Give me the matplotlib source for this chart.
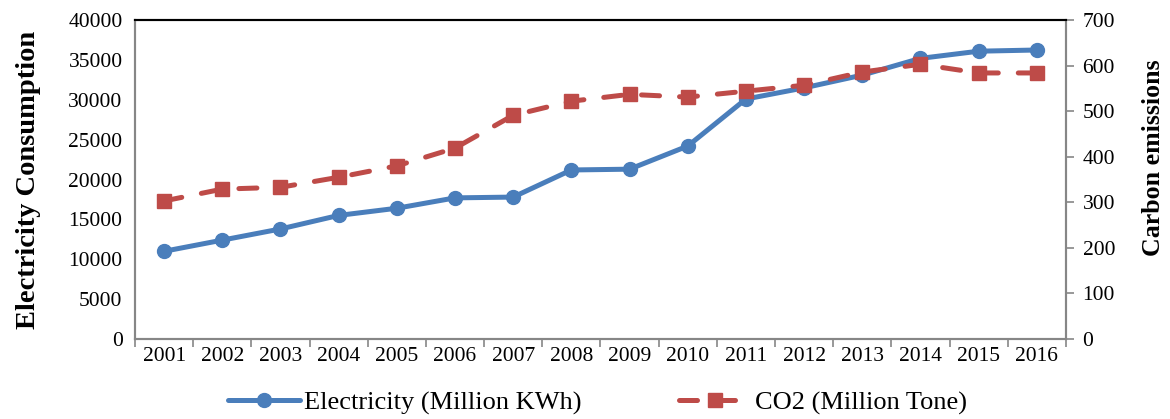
import numpy as np
import matplotlib.pyplot as plt

plt.rcParams['font.family'] = ['Liberation Serif', 'DejaVu Serif']

years = ['2001', '2002', '2003', '2004', '2005', '2006', '2007', '2008',
         '2009', '2010', '2011', '2012', '2013', '2014', '2015', '2016']
electricity = [11000, 12400, 13800, 15500, 16400, 17700, 17800, 21200,
               21300, 24200, 30100, 31500, 33100, 35200, 36100, 36250]
co2 = [303, 329, 333, 355, 380, 419, 491, 522,
       537, 531, 544, 557, 586, 603, 584, 584]

blue = '#4a7ebb'
red = '#be4b48'
grey = '#868686'

fig = plt.figure(figsize=(11.7, 4.19), dpi=100)
ax = fig.add_axes([0.1154, 0.191, 0.7956, 0.761])
ax2 = ax.twinx()

x = np.arange(len(years))
l1, = ax.plot(x, electricity, color=blue, lw=3.6, marker='o', ms=10,
              solid_capstyle='round', label='Electricity (Million KWh)')
l2, = ax2.plot(x, co2, color=red, lw=3.6, marker='s', ms=10.5,
               linestyle=(0, (3.6, 4.0)), dash_capstyle='round',
               label='CO2 (Million Tone)')

ax.set_xlim(-0.5, len(years) - 0.5)
ax.set_ylim(0, 40000)
ax2.set_ylim(0, 700)
ax.set_yticks(np.arange(0, 40001, 5000))
ax2.set_yticks(np.arange(0, 701, 100))

ax.set_xticks(x)
ax.set_xticklabels(years)
ax.set_xticks(np.arange(-0.5, len(years), 1), minor=True)
ax.tick_params(axis='x', which='major', length=0, labelsize=15.5, pad=6)
ax.tick_params(axis='x', which='minor', length=6, color=grey, width=1.2)
ax.tick_params(axis='y', labelsize=15.5, length=0, pad=9)
ax2.tick_params(axis='y', labelsize=15.5, length=6, color=grey, width=1.2, pad=6)

for a in (ax, ax2):
    for s in ('left', 'right', 'bottom'):
        a.spines[s].set_color(grey)
        a.spines[s].set_linewidth(1.5)
    a.spines['top'].set_color('black')
    a.spines['top'].set_linewidth(1.5)

ax.set_ylabel('Electricity Consumption', fontsize=20.5, fontweight='bold')
ax2.set_ylabel('Carbon emissions', fontsize=18.6, fontweight='bold')
ax.yaxis.set_label_coords(-0.1015, 0.5)
ax2.yaxis.set_label_coords(1.0816, 0.567)

fig.legend(handles=[l1, l2], loc='center left',
           bbox_to_anchor=(228 / 1170, 1 - 403 / 419),
           ncol=2, frameon=False, fontsize=19, handlelength=2.73,
           columnspacing=3.68, handletextpad=0.15, borderpad=0, borderaxespad=0)

fig.savefig('out.png', dpi=100)
